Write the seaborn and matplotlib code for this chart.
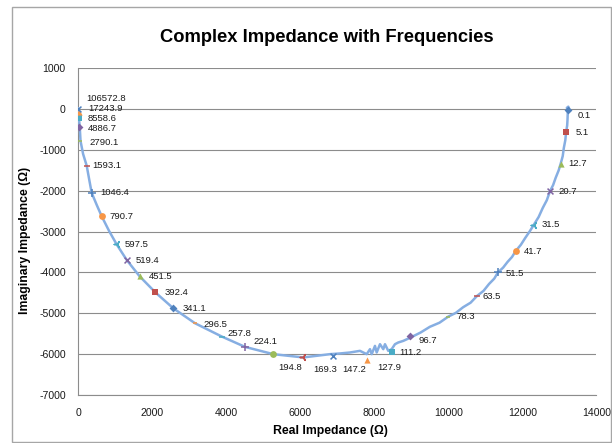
import matplotlib
matplotlib.use("Agg")
import matplotlib.pyplot as plt
import seaborn as sns
import pandas as pd
from matplotlib.patches import Rectangle

# ---- data ----
freq_labels = ["0.1", "5.1", "12.7", "20.7", "31.5", "41.7", "51.5", "63.5", "78.3",
               "96.7", "111.2", "127.9", "147.2", "169.3", "194.8", "224.1", "257.8",
               "296.5", "341.1", "392.4", "451.5", "519.4", "597.5", "790.7", "1046.4",
               "1593.1", "2790.1", "4886.7", "8558.6", "17243.9", "106572.8"]
marker_real = [13230, 13180, 13035, 12745, 12313, 11818, 11340, 10773, 9998,
               8962, 8470, 7800, 6884, 6080, 5270, 4505, 3876,
               3154, 2567, 2081, 1659, 1316, 1038, 632, 362,
               227, 46, 10, 10, 15, 5]
marker_imag = [-17, -571, -1336, -2012, -2826, -3477, -3998, -4576, -5080,
               -5560, -5950, -6140, -6050, -6080, -6000, -5822, -5568,
               -5243, -4877, -4486, -4095, -3704, -3314, -2623, -2051,
               -1385, -781, -444, -212, -66, 7]

# full measured curve (high frequency -> low frequency)
curve_real = [0, 5, 10, 20, 40, 60, 130, 227, 300, 362, 500, 632, 830, 1038, 1316,
              1659, 2081, 2567, 3154, 3876, 4505, 5270, 6080, 6801, 7071, 7341, 7611,
              7701, 7793, 7882, 7928, 8017, 8063, 8152, 8241, 8287, 8376, 8468, 8557,
              8646, 8781, 8962, 9250, 9500, 9760, 9998, 10200, 10400, 10600, 10773,
              10950, 11100, 11240, 11340, 11480, 11600, 11720, 11818, 11960, 12080,
              12200, 12313, 12440, 12550, 12660, 12745, 12830, 12900, 12980, 13035,
              13090, 13120, 13160, 13180, 13210, 13220, 13229, 13260, 13240, 13200]
curve_imag = [24, 0, -100, -250, -450, -780, -1100, -1385, -1750, -2051, -2350, -2623,
              -2980, -3314, -3704, -4095, -4486, -4877, -5243, -5568, -5822, -6000,
              -6080, -6000, -5983, -5959, -5919, -5959, -6000, -5878, -6000, -5797,
              -5959, -5756, -5878, -5756, -5919, -5878, -5756, -5714, -5675, -5600,
              -5470, -5330, -5230, -5080, -4990, -4850, -4740, -4576, -4450, -4280,
              -4150, -3998, -3880, -3740, -3620, -3477, -3320, -3150, -2990, -2826,
              -2640, -2420, -2230, -2012, -1860, -1680, -1500, -1336, -1150, -950,
              -760, -571, -400, -250, -17, 20, 60, 30]

x_ticks = [0, 2000, 4000, 6000, 8000, 10000, 12000, 14000]
y_ticks = [1000, 0, -1000, -2000, -3000, -4000, -5000, -6000, -7000]

# ---- styles (Excel-like cycle) ----
cyc_colors = ["#4F81BD", "#C0504D", "#9BBB59", "#8064A2", "#4BACC6", "#F79646"]
cyc_markers = ["D", "s", "^", "x", (3, 2, 90), "o", "+", "_", "_"]
cyc_sizes = [16, 20, 20, 18, 22, 24, 26, 22, 12]
label_offsets = [(10, 6), (10, 0), (8, 0), (9, 0), (8, 0), (8, 0), (8, 1), (6, 0), (8, 0),
                 (9, 4), (8, 0), (10, 8), (9, 13), (10, 12), (5, 13), (8, -5), (6, -3),
                 (8, 1), (9, 0), (9, 0), (9, 0), (9, 0), (8, 0), (8, 0), (9, 0),
                 (6, 0), (9, 1), (9, 1), (9, 1), (9, -3), (8, -10)]

sns.set_theme(style="white")
plt.rcParams["font.family"] = ["Liberation Sans", "DejaVu Sans"]

fig = plt.figure(figsize=(6.12, 4.43), dpi=100)
ax = fig.add_axes([78.3 / 612, 1 - 395 / 443, (596.4 - 78.3) / 612, (395 - 68.3) / 443])

curve_df = pd.DataFrame({"real": curve_real, "imag": curve_imag})
sns.lineplot(data=curve_df, x="real", y="imag", sort=False, estimator=None,
             color="#86AEE2", linewidth=1.8, ax=ax, zorder=3)

for i, (xr, yi, lab) in enumerate(zip(marker_real, marker_imag, freq_labels)):
    col = cyc_colors[i % 6]
    mk = cyc_markers[i % 9]
    sz = cyc_sizes[i % 9]
    lw = 1.1 if mk in ("x", "+", "_") or isinstance(mk, tuple) else 0
    sns.scatterplot(x=[xr], y=[yi], marker=mk, s=sz, color=col, ax=ax,
                    linewidth=lw, edgecolor=col, zorder=4, legend=False)
    dx, dy = label_offsets[i]
    ax.annotate(lab, (xr, yi), xytext=(dx, -dy), textcoords="offset pixels",
                ha="left", va="center", fontsize=6.8, color="#1a1a1a", zorder=5)

ax.set_xlim(0, 14000)
ax.set_ylim(-7000, 1000)
ax.set_xticks(x_ticks)
ax.set_yticks(y_ticks)
ax.set_xticklabels([str(t) for t in x_ticks], fontsize=7.6)
ax.set_yticklabels([str(t) for t in y_ticks], fontsize=7.6)
ax.yaxis.grid(True, color="#8C8C8C", linewidth=0.8)
ax.xaxis.grid(False)
for s in ("top", "right"):
    ax.spines[s].set_visible(False)
for s in ("left", "bottom"):
    ax.spines[s].set_color("#8C8C8C")
    ax.spines[s].set_linewidth(0.8)
ax.tick_params(axis="both", which="major", direction="out", length=4, width=0.8,
               color="#8C8C8C", pad=5, labelcolor="#1a1a1a")
ax.set_xlabel("")
ax.set_ylabel("")

fig.text(0.534, 1 - 38 / 443, "Complex Impedance with Frequencies", ha="center",
         va="center", fontsize=13.2, fontweight="bold", color="black")
fig.text(330 / 612, 1 - 431 / 443, "Real Impedance (Ω)", ha="center", va="center",
         fontsize=8.8, fontweight="bold", color="black")
fig.text(25 / 612, 1 - 240 / 443, "Imaginary Impedance (Ω)", ha="center", va="center",
         rotation=90, fontsize=8.8, fontweight="bold", color="black")

fig.patches.append(Rectangle((11.5 / 612, 1 - 442 / 443), (611 - 11.5) / 612, (442 - 6.5) / 443,
                             transform=fig.transFigure, fill=False, edgecolor="#A6A6A6",
                             linewidth=1.0))

fig.savefig("out.png", dpi=100)
